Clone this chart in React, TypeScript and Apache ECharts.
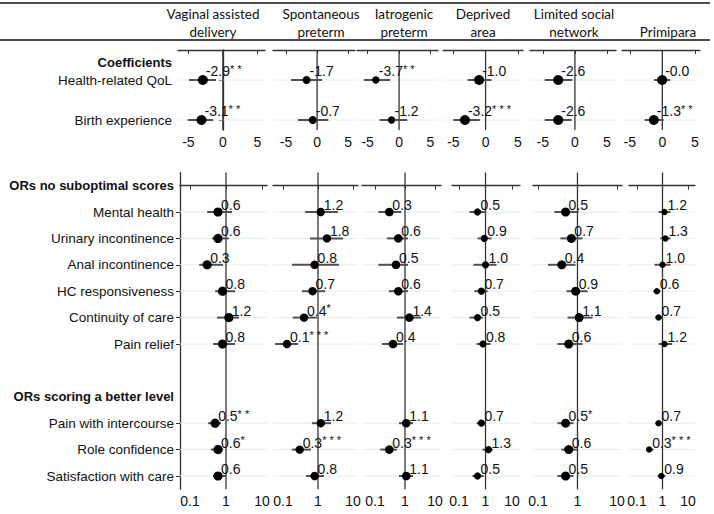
import React, { useEffect, useRef } from "react";
import * as echarts from "echarts";

// ---------------- DATA ----------------
const columnHeaders: string[][] = [
  ["Vaginal assisted", "delivery"],
  ["Spontaneous", "preterm"],
  ["Iatrogenic", "preterm"],
  ["Deprived", "area"],
  ["Limited social", "network"],
  ["", "Primipara"],
];

const coefHeader = "Coefficients";
const coefRows = ["Health-related QoL", "Birth experience"];
// per column: [Health-related QoL, Birth experience]
const coefEst = [[-2.9, -3.1], [-1.7, -0.7], [-3.7, -1.2], [-1.0, -3.2], [-2.6, -2.6], [-0.02, -1.3]];
const coefLow = [[-4.9, -5.1], [-4.2, -3.1], [-5.6, -3.1], [-2.8, -5.0], [-4.7, -4.7], [-1.3, -2.7]];
const coefHigh = [[-1.0, -1.4], [0.8, 1.8], [-1.4, 1.3], [0.9, -0.9], [-0.4, -0.5], [1.2, 0.2]];
const coefStars = [["**", "**"], ["", ""], ["**", ""], ["", "***"], ["", ""], ["", "**"]];
const coefTicks = [-5, 0, 5];

const orHeader1 = "ORs no suboptimal scores";
const orRows1 = ["Mental health", "Urinary incontinence", "Anal incontinence", "HC responsiveness", "Continuity of care", "Pain relief"];
const orHeader2 = "ORs scoring a better level";
const orRows2 = ["Pain with intercourse", "Role confidence", "Satisfaction with care"];
// per column, rows: orRows1 then orRows2
const orEst = [
  [0.6, 0.6, 0.3, 0.8, 1.2, 0.8, 0.5, 0.6, 0.6],
  [1.2, 1.8, 0.8, 0.7, 0.4, 0.13, 1.2, 0.3, 0.8],
  [0.3, 0.6, 0.5, 0.6, 1.4, 0.4, 1.1, 0.3, 1.1],
  [0.5, 0.9, 1.0, 0.7, 0.5, 0.8, 0.7, 1.3, 0.5],
  [0.5, 0.7, 0.4, 0.9, 1.1, 0.6, 0.5, 0.6, 0.5],
  [1.2, 1.3, 1.0, 0.6, 0.7, 1.2, 0.7, 0.3, 0.9],
];
const orLow = [
  [0.3, 0.41, 0.18, 0.5, 0.56, 0.44, 0.32, 0.38, 0.44],
  [0.43, 0.59, 0.18, 0.35, 0.19, 0.06, 0.67, 0.18, 0.45],
  [0.13, 0.25, 0.13, 0.29, 0.54, 0.17, 0.63, 0.15, 0.63],
  [0.25, 0.5, 0.35, 0.38, 0.25, 0.46, 0.46, 0.77, 0.32],
  [0.26, 0.37, 0.18, 0.53, 0.56, 0.31, 0.31, 0.39, 0.31],
  [0.7, 0.83, 0.49, 0.44, 0.53, 0.7, 0.53, 0.28, 0.64],
];
const orHigh = [
  [1.47, 1.2, 0.83, 1.8, 2.3, 1.78, 0.73, 0.83, 1.0],
  [3.7, 5.2, 4.0, 1.6, 0.93, 0.27, 2.35, 0.63, 1.48],
  [0.75, 1.26, 1.26, 1.26, 3.4, 0.86, 1.85, 0.54, 1.85],
  [1.0, 1.7, 2.6, 1.2, 0.8, 1.55, 1.0, 1.84, 0.85],
  [1.06, 1.34, 0.89, 1.8, 2.4, 1.34, 0.79, 1.0, 0.79],
  [2.06, 2.06, 2.06, 0.83, 1.0, 2.4, 0.99, 0.44, 1.3],
];
const orStars = [
  ["", "", "", "", "", "", "**", "*", ""],
  ["", "", "", "", "*", "***", "", "***", ""],
  ["", "", "", "", "", "", "", "***", ""],
  ["", "", "", "", "", "", "", "", ""],
  ["", "", "", "", "", "", "*", "", ""],
  ["", "", "", "", "", "", "", "***", ""],
];
const orTicks = [0.1, 1, 10];

// ---------------- LAYOUT / STYLE ----------------
const FONT = '"Liberation Sans", Arial, Helvetica, sans-serif';
const HEAD_FONT = 'Lato, "Open Sans", sans-serif';
const coefPanels = [
  { left: 178, right: 265, min: -6.5, max: 6.1, r: 5 },
  { left: 273, right: 355, min: -7.1, max: 6.1, r: 4 },
  { left: 357, right: 438, min: -6.7, max: 6.2, r: 3.7 },
  { left: 443, right: 523, min: -6.6, max: 5.8, r: 5 },
  { left: 530, right: 616, min: -7.0, max: 6.4, r: 5 },
  { left: 622, right: 700, min: -6.2, max: 5.8, r: 5 },
];
const orPanels = [
  { left: 180, right: 267, min: 0.0527, max: 13.8, r: 4.6 },
  { left: 273, right: 358, min: 0.0518, max: 13.9, r: 4.2 },
  { left: 362, right: 441, min: 0.037, max: 15.8, r: 4.3 },
  { left: 452, right: 520, min: 0.0544, max: 20, r: 3.6 },
  { left: 533, right: 622, min: 0.0747, max: 13.4, r: 4.5 },
  { left: 629, right: 695, min: 0.0486, max: 18.8, r: 3.2 },
];
const headerCenters = [213, 321, 404, 483, 574, 668];
const COEF_TOP = 50, COEF_H = 80;
const OR_TOP = 172.4, OR_H = 316.8;
// row positions on the (inverted) value axis
const COEF_HEADER_POS = 1.2;
const COEF_ROW_POS = [3, 7];
const OR_ROW_POS = [1, 2, 3, 4, 5, 6, 9, 10, 11];

function fmt(v: number) {
  return v.toFixed(1);
}
function starText(s: string) {
  return s.split("").join(" ");
}

export default function App() {
  const ref = useRef<HTMLDivElement>(null);
  useEffect(() => {
    const chart = echarts.init(ref.current!, undefined, { renderer: "svg" });

    const grids: any[] = [];
    const xAxes: any[] = [];
    const yAxes: any[] = [];
    const series: any[] = [];

    const coefLabelMap: [number, string][] = [
      [COEF_HEADER_POS, `{b|${coefHeader}}`],
      [COEF_ROW_POS[0], coefRows[0]],
      [COEF_ROW_POS[1], coefRows[1]],
    ];
    const orAllRows = [...orRows1, ...orRows2];
    const orLabelMap: [number, string][] = [
      [0, `{b|${orHeader1}}`],
      ...orRows1.map((r, i) => [OR_ROW_POS[i], r] as [number, string]),
      [8, `{b|${orHeader2}}`],
      ...orRows2.map((r, i) => [OR_ROW_POS[6 + i], r] as [number, string]),
    ];
    const lookup = (map: [number, string][]) => (v: number) => {
      const f = map.find((m) => Math.abs(m[0] - v) < 1e-6);
      return f ? f[1] : "";
    };

    const makeRender = (labels: string[], refX: number, radius: number, dy: number) =>
      (params: any, api: any) => {
        const est = api.value(0);
        const row = api.value(1);
        const lo = api.value(2);
        const hi = api.value(3);
        const p = api.coord([est, row]);
        const a = api.coord([lo, row]);
        const b = api.coord([hi, row]);
        const cs = params.coordSys;
        const children: any[] = [
          {
            type: "line",
            z2: 0,
            shape: { x1: cs.x, y1: p[1], x2: cs.x + cs.width, y2: p[1] },
            style: { stroke: "#e4eeee", lineWidth: 1 },
          },
          {
            type: "line",
            z2: 2,
            shape: { x1: a[0], y1: p[1], x2: b[0], y2: p[1] },
            style: { stroke: "#505050", lineWidth: 2 },
          },
          {
            type: "circle",
            z2: 3,
            shape: { cx: p[0], cy: p[1], r: radius },
            style: { fill: "#000" },
          },
          {
            type: "text",
            z2: 4,
            x: p[0] + 3,
            y: p[1] - dy,
            style: {
              text: labels[params.dataIndex],
              align: "left",
              verticalAlign: "middle",
              rich: {
                v: { fontSize: 14, fontFamily: FONT, fill: "#111", lineHeight: 16 },
                s: { fontSize: 11, fontFamily: FONT, fill: "#111", verticalAlign: "top", lineHeight: 12 },
              },
            },
          },
        ];
        if (params.dataIndex === 0) {
          const rx = api.coord([refX, row])[0];
          children.push({
            type: "line",
            z2: 1,
            shape: { x1: rx, y1: cs.y, x2: rx, y2: cs.y + cs.height },
            style: { stroke: "#333", lineWidth: 1.3 },
          });
        }
        return { type: "group", children };
      };

    // coefficient panels
    coefPanels.forEach((pn, i) => {
      grids.push({ left: pn.left, width: pn.right - pn.left, top: COEF_TOP, height: COEF_H });
      xAxes.push({
        type: "value",
        gridIndex: i,
        min: pn.min,
        max: pn.max,
        axisLine: { show: true, lineStyle: { color: "#333", width: 1.3 } },
        axisTick: { show: true, customValues: coefTicks, length: 4, lineStyle: { color: "#333" } },
        axisLabel: { customValues: coefTicks, fontSize: 14, fontFamily: FONT, color: "#111", margin: 5 },
        splitLine: { show: false },
      });
      yAxes.push({
        type: "value",
        gridIndex: i,
        inverse: true,
        min: 0,
        max: 8,
        show: i === 0,
        axisLine: { show: true, lineStyle: { color: "#333", width: 1.3 } },
        axisTick: { show: true, customValues: COEF_ROW_POS, length: 4, lineStyle: { color: "#333" } },
        axisLabel: {
          customValues: coefLabelMap.map((m) => m[0]),
          formatter: lookup(coefLabelMap),
          fontSize: 13.5,
          fontFamily: FONT,
          color: "#111",
          margin: 6,
          rich: { b: { fontWeight: "bold", fontSize: 13, fontFamily: FONT, color: "#111" } },
        },
        splitLine: { show: false },
      });
      const labels = coefRows.map((_, r) => `{v|${fmt(coefEst[i][r])}}` + (coefStars[i][r] ? `{s|${starText(coefStars[i][r])}}` : ""));
      series.push({
        type: "custom",
        xAxisIndex: i,
        yAxisIndex: i,
        silent: true,
        clip: false,
        renderItem: makeRender(labels, 0, pn.r, 9),
        encode: { x: 0, y: 1 },
        data: coefRows.map((_, r) => [coefEst[i][r], COEF_ROW_POS[r], coefLow[i][r], coefHigh[i][r]]),
      });
    });

    // odds ratio panels
    orPanels.forEach((pn, i) => {
      const gi = 6 + i;
      grids.push({ left: pn.left, width: pn.right - pn.left, top: OR_TOP, height: OR_H });
      xAxes.push({
        type: "log",
        logBase: 10,
        gridIndex: gi,
        min: pn.min,
        max: pn.max,
        axisLine: { show: true, lineStyle: { color: "#333", width: 1.3 } },
        axisTick: { show: true, customValues: orTicks, length: 4, lineStyle: { color: "#333" } },
        axisLabel: {
          customValues: orTicks,
          formatter: (v: number) => String(v),
          fontSize: 14,
          fontFamily: FONT,
          color: "#111",
          margin: 5,
        },
        splitLine: { show: false },
      });
      yAxes.push({
        type: "value",
        gridIndex: gi,
        inverse: true,
        min: -0.5,
        max: 11.5,
        show: i === 0,
        axisLine: { show: true, lineStyle: { color: "#333", width: 1.3 } },
        axisTick: { show: true, customValues: OR_ROW_POS, length: 4, lineStyle: { color: "#333" } },
        axisLabel: {
          customValues: orLabelMap.map((m) => m[0]),
          formatter: lookup(orLabelMap),
          fontSize: 13.5,
          fontFamily: FONT,
          color: "#111",
          margin: 6,
          rich: { b: { fontWeight: "bold", fontSize: 13, fontFamily: FONT, color: "#111" } },
        },
        splitLine: { show: false },
      });
      const labels = orAllRows.map((_, r) => `{v|${fmt(orEst[i][r])}}` + (orStars[i][r] ? `{s|${starText(orStars[i][r])}}` : ""));
      series.push({
        type: "custom",
        xAxisIndex: gi,
        yAxisIndex: gi,
        silent: true,
        clip: false,
        renderItem: makeRender(labels, 1, pn.r, 7),
        encode: { x: 0, y: 1 },
        data: orAllRows.map((_, r) => [orEst[i][r], OR_ROW_POS[r], orLow[i][r], orHigh[i][r]]),
      });
    });

    const graphic: any[] = [
      { type: "line", shape: { x1: 0, y1: 3, x2: 710, y2: 3 }, style: { stroke: "#111", lineWidth: 1.4 } },
      { type: "line", shape: { x1: 0, y1: 40, x2: 710, y2: 40 }, style: { stroke: "#111", lineWidth: 1.4 } },
    ];
    columnHeaders.forEach((h, i) => {
      h.forEach((line, k) => {
        if (!line) return;
        graphic.push({
          type: "text",
          x: headerCenters[i],
          y: k === 0 ? 14 : 32,
          style: {
            text: line,
            align: "center",
            verticalAlign: "middle",
            fontSize: 13.5,
            fontFamily: HEAD_FONT,
            fill: "#111",
          },
        });
      });
    });

    chart.setOption({
      animation: false,
      grid: grids,
      xAxis: xAxes,
      yAxis: yAxes,
      series,
      graphic,
    });
    return () => chart.dispose();
  }, []);
  return <div ref={ref} style={{ position: "absolute", left: 0, top: 0, width: 714, height: 514, background: "#fff" }} />;
}
